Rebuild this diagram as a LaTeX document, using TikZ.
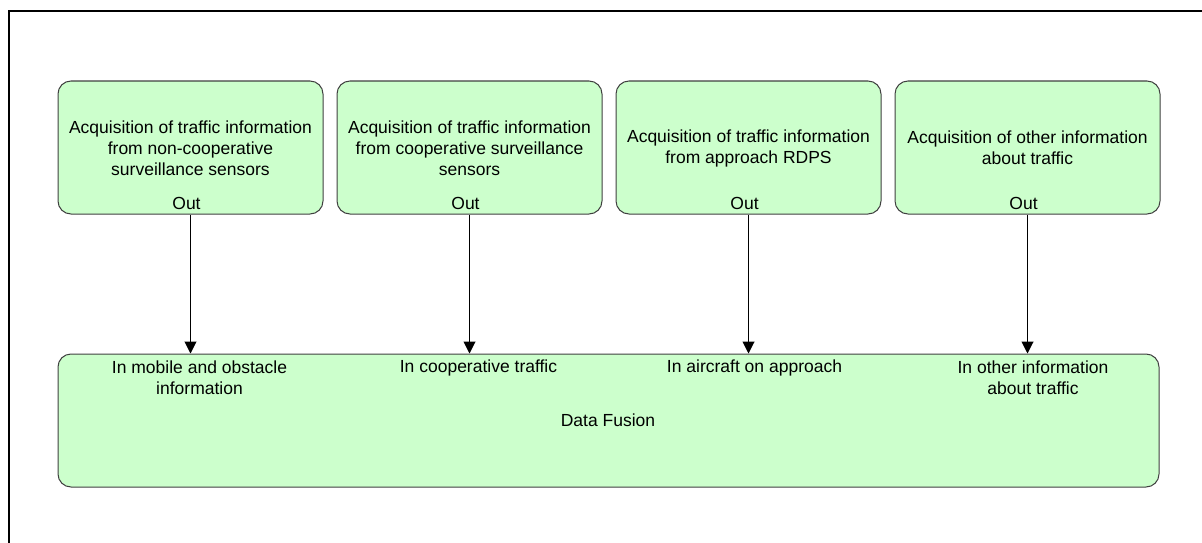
\documentclass[tikz,border=0pt]{standalone}
\usepackage{fontspec}
\setmainfont{Liberation Sans}
\usetikzlibrary{arrows.meta}
\definecolor{boxfill}{HTML}{CCFFCC}
\definecolor{boxline}{HTML}{404040}
\tikzset{
  stepbox/.style={draw=boxline, line width=1pt, fill=boxfill, rounded corners=13pt,
    inner sep=0pt, minimum width=265pt},
  lbl/.style={align=center, inner sep=0pt, text=black,
    font=\fontsize{17.5pt}{21pt}\selectfont},
  flow/.style={draw=black, line width=1pt, -{Triangle[width=12pt,length=12pt]}},
  frame/.style={draw=black, line width=2pt}
}
\begin{document}
\begin{tikzpicture}[x=1pt,y=-1pt]
\useasboundingbox (0,0) rectangle (1202,543);
% outer frame (left and top edges)
\draw[frame] (9,560) -- (9,11) -- (1220,11);

% acquisition boxes
\node[stepbox, minimum height=133pt] (a1) at (190.5,147.5) {};
\node[stepbox, minimum height=133pt] (a2) at (469.5,147.5) {};
\node[stepbox, minimum height=133pt] (a3) at (748.5,147.5) {};
\node[stepbox, minimum height=133pt] (a4) at (1027.5,147.5) {};

\node[lbl] (t1) at (190.5,148) {Acquisition of traffic information\\from non-cooperative\\surveillance sensors};
\node[lbl] (t2) at (469.5,148) {Acquisition of traffic information\\from cooperative surveillance\\sensors};
\node[lbl] (t3) at (748.5,148) {Acquisition of traffic information\\from approach RDPS};
\node[lbl] (t4) at (1027.5,148) {Acquisition of other information\\about traffic};

\node[lbl] (o1) at (186.5,203) {Out};
\node[lbl] (o2) at (465.5,203) {Out};
\node[lbl] (o3) at (744.5,203) {Out};
\node[lbl] (o4) at (1023.5,203) {Out};

% fusion box
\node[stepbox, minimum width=1101pt, minimum height=133pt] (fus) at (608.5,420.5) {};
\node[lbl] (i1) at (199.5,377.5) {In mobile and obstacle\\information};
\node[lbl] (i2) at (478.5,368) {In cooperative traffic};
\node[lbl] (i3) at (754.5,368) {In aircraft on approach};
\node[lbl] (i4) at (1033,377.5) {In other information\\about traffic};
\node[lbl] (df) at (608,420.5) {Data Fusion};

% connectors
\draw[flow] (a1.south) -- (a1.south |- fus.north);
\draw[flow] (a2.south) -- (a2.south |- fus.north);
\draw[flow] (a3.south) -- (a3.south |- fus.north);
\draw[flow] (a4.south) -- (a4.south |- fus.north);
\end{tikzpicture}
\end{document}
